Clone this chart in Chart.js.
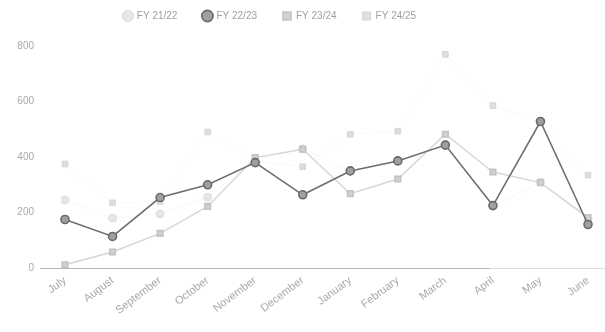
<!DOCTYPE html>
<html>
<head>
<meta charset="utf-8">
<script src="https://cdn.jsdelivr.net/npm/chart.js@4"></script>
<style>
  html, body { margin: 0; padding: 0; background: #fff; }
  #wrap { width: 605px; height: 332px; position: relative; }
</style>
</head>
<body>
<div id="wrap"><canvas id="c"></canvas></div>
<script>
// Monthly totals per financial year (July to June)
const months = ['July', 'August', 'September', 'October', 'November', 'December',
                'January', 'February', 'March', 'April', 'May', 'June'];
const fy2122 = [245, 180, 195, 255, 390, 430, 350, 385, 445, 225, 310, 175];
const fy2223 = [175, 114, 254, 300, 380, 264, 350, 386, 443, 225, 528, 157];
const fy2324 = [12, 58, 125, 222, 398, 428, 268, 321, 482, 346, 308, 182];
const fy2425 = [375, 235, 240, 490, 385, 365, 482, 493, 770, 585, 525, 335];
const yTicks = [0, 200, 400, 600, 800];

// Baseline drawn across the full width at zero
const baseline = {
  id: 'baseline',
  beforeDatasetsDraw(chart) {
    const { ctx, scales: { y } } = chart;
    const py = Math.round(y.getPixelForValue(0)) + 0.5;
    ctx.save();
    ctx.lineWidth = 1;
    ctx.strokeStyle = '#b5b5b5';
    ctx.beginPath();
    ctx.moveTo(40, py);
    ctx.lineTo(490, py);
    ctx.stroke();
    ctx.strokeStyle = '#dcdcdc';
    ctx.beginPath();
    ctx.moveTo(490, py);
    ctx.lineTo(605, py);
    ctx.stroke();
    ctx.restore();
  }
};

// Nudge the legend row left and up
const legendShift = {
  id: 'legendShift',
  afterLayout(chart) {
    const lg = chart.legend;
    if (!lg) return;
    lg.right -= 48;
    lg.top -= 15;
    lg.bottom -= 15;
  }
};

Chart.defaults.font.family = '"Liberation Sans", Arial, sans-serif';
Chart.defaults.color = '#9a9a9a';

new Chart(document.getElementById('c'), {
  type: 'line',
  data: {
    labels: months,
    datasets: [
      {
        label: 'FY 21/22', data: fy2122,
        borderColor: '#f8f8f8', borderWidth: 1,
        backgroundColor: '#e6e6e6', pointBorderColor: '#dddddd',
        pointStyle: 'circle', pointRadius: 4, order: 4
      },
      {
        label: 'FY 22/23', data: fy2223,
        borderColor: '#6e6e6e', borderWidth: 1.6,
        backgroundColor: '#a0a0a0', pointBorderColor: '#6a6a6a',
        pointStyle: 'circle', pointRadius: 4, order: 1
      },
      {
        label: 'FY 23/24', data: fy2324,
        borderColor: '#d6d6d6', borderWidth: 1.5,
        backgroundColor: '#d0d0d0', pointBorderColor: '#c2c2c2',
        pointStyle: 'rect', pointRadius: 4, order: 2
      },
      {
        label: 'FY 24/25', data: fy2425,
        borderColor: '#f9f9f9', borderWidth: 1,
        backgroundColor: '#dedede', pointBorderColor: '#d6d6d6',
        pointStyle: 'rect', pointRadius: 4, order: 3
      }
    ]
  },
  plugins: [baseline, legendShift],
  options: {
    responsive: true,
    maintainAspectRatio: false,
    animation: false,
    layout: { padding: { top: 0, right: 17, left: 0, bottom: 9 } },
    plugins: {
      legend: {
        position: 'top',
        labels: {
          usePointStyle: true,
          boxWidth: 8, boxHeight: 8,
          padding: 26,
          font: { size: 10 },
          color: '#a0a0a0',
          sort: (a, b) => a.datasetIndex - b.datasetIndex
        }
      },
      tooltip: { enabled: false }
    },
    scales: {
      x: {
        offset: false,
        grid: { display: false, drawTicks: false },
        border: { display: false },
        ticks: {
          font: { size: 11 }, color: '#a8a8a8',
          minRotation: 37, maxRotation: 37, padding: 6
        }
      },
      y: {
        min: 0, max: 800,
        afterBuildTicks(scale) { scale.ticks = yTicks.map(v => ({ value: v })); },
        afterFit(scale) { scale.width = 65; },
        grid: { display: false, drawTicks: false },
        border: { display: false },
        ticks: { font: { size: 10 }, color: '#a8a8a8', padding: 31 }
      }
    }
  }
});
</script>
</body>
</html>
